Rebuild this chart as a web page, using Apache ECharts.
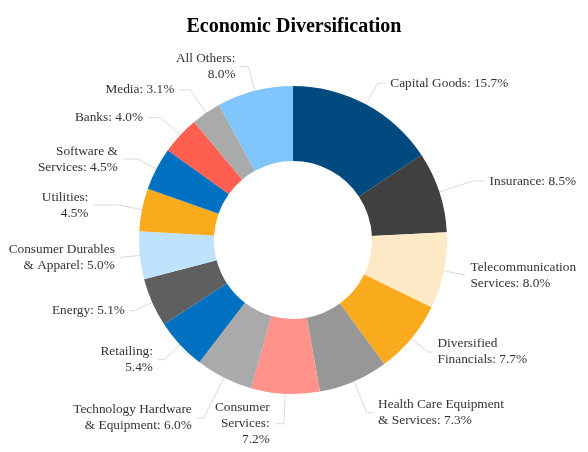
<!DOCTYPE html>
<html><head><meta charset="utf-8">
<script src="https://cdn.jsdelivr.net/npm/echarts@6/dist/echarts.min.js"></script>
<style>html,body{margin:0;padding:0;background:#fff}#c{width:588px;height:452px}</style>
</head><body><div id="c"></div>
<script>
const categories = ["Capital Goods","Insurance","Telecommunication Services","Diversified Financials","Health Care Equipment & Services","Consumer Services","Technology Hardware & Equipment","Retailing","Energy","Consumer Durables & Apparel","Utilities","Software & Services","Banks","Media","All Others"];
const labelTexts = ["Capital Goods: 15.7%","Insurance: 8.5%","Telecommunication\nServices: 8.0%","Diversified\nFinancials: 7.7%","Health Care Equipment\n& Services: 7.3%","Consumer\nServices:\n7.2%","Technology Hardware\n& Equipment: 6.0%","Retailing:\n5.4%","Energy: 5.1%","Consumer Durables\n& Apparel: 5.0%","Utilities:\n4.5%","Software &\nServices: 4.5%","Banks: 4.0%","Media: 3.1%","All Others:\n8.0%"];
const values = [15.7,8.5,8.0,7.7,7.3,7.2,6.0,5.4,5.1,5.0,4.5,4.5,4.0,3.1,8.0];
const colors = ["#004a80","#404040","#fde9c6","#f9ab1d","#979797","#ff928a","#aaaaaa","#0070c0","#5f5f5f","#c0e3fd","#f9ab1d","#0070c0","#ff5f50","#aaaaaa","#80c5fb"];
// label line lengths (radial, horizontal) per slice
const lineLen  = [24,35,22,21,34,30,45,22,20,18,24,21,26,28,25];
const lineLen2 = [8,12,0,5,6,9,7,6,4,2,25,15,13,11,8];

const FONT = "'Liberation Serif', 'Times New Roman', serif";
const chart = echarts.init(document.getElementById('c'));
chart.setOption({
  animation:false,
  textStyle:{fontFamily:FONT},
  title:{text:"Economic Diversification",left:'center',top:12,textStyle:{fontFamily:FONT,fontWeight:'bold',fontSize:20,color:'#000'}},
  series:[{
    type:'pie',
    center:[293,240],
    radius:[79,154],
    startAngle:90,
    clockwise:true,
    avoidLabelOverlap:false,
    data:categories.map((c,i)=>({
      name:c,value:values[i],itemStyle:{color:colors[i]},
      label:{formatter:labelTexts[i]},
      labelLine:{length:lineLen[i],length2:lineLen2[i]}
    })),
    label:{show:true,position:'outside',fontFamily:FONT,fontSize:13.33,color:'#333',lineHeight:16,distanceToLabelLine:5},
    labelLine:{show:true,lineStyle:{color:'#d9d9d9',width:1}}
  }]
});
</script></body></html>
